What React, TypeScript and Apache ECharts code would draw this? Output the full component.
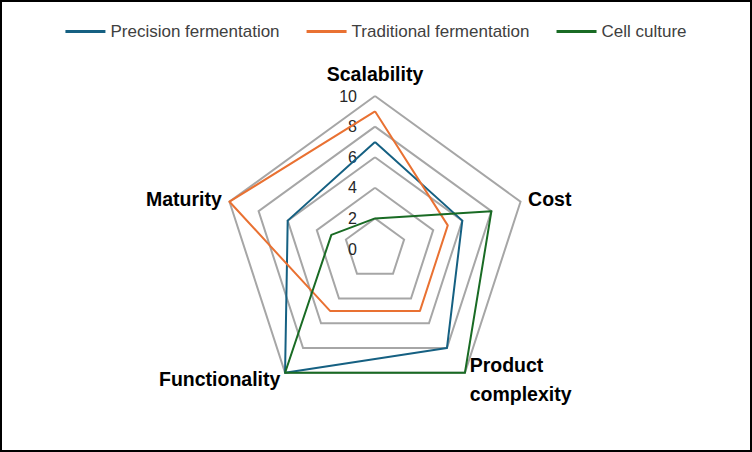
import React, { useEffect, useRef } from "react";
import * as echarts from "echarts";

// Categories in the reference's clockwise order, starting at the top
const categories = ["Scalability", "Cost", "Product\ncomplexity", "Functionality", "Maturity"];
const seriesNames = ["Precision fermentation", "Traditional fermentation", "Cell culture"];
const precisionValues = [7, 6, 8, 10, 6];
const traditionalValues = [9, 5, 5, 5, 10];
const cellValues = [2, 8, 10, 10, 3];
const seriesColors = ["#156082", "#E97132", "#196B24"];
const axisMin = 0;
const axisMax = 10;
const axisSplits = 5;

// ECharts lays radar indicators out counter-clockwise; reorder to appear clockwise
const order = [0, 4, 3, 2, 1];

export default function App() {
  const ref = useRef<HTMLDivElement>(null);
  useEffect(() => {
    if (!ref.current) return;
    const chart = echarts.init(ref.current, null, { renderer: "svg" });
    const allValues = [precisionValues, traditionalValues, cellValues];
    chart.setOption({
      animation: false,
      backgroundColor: "#ffffff",
      legend: {
        top: 18,
        left: "center",
        itemWidth: 40,
        itemHeight: 3,
        itemGap: 27,
        icon: "rect",
        data: seriesNames,
        textStyle: {
          fontSize: 17,
          color: "#404040",
          fontFamily: "Liberation Sans, Arial, sans-serif",
        },
      },
      radar: {
        center: [375, 249],
        radius: 153,
        startAngle: 90,
        shape: "polygon",
        splitNumber: axisSplits,
        axisNameGap: 8,
        axisName: {
          color: "#000000",
          fontWeight: "bold",
          fontSize: 19.5,
          lineHeight: 29,
          fontFamily: "Liberation Sans, Arial, sans-serif",
        },
        splitLine: { lineStyle: { color: "#a6a6a6", width: 2 } },
        splitArea: { show: false },
        axisLine: { show: false },
        axisTick: { show: false },
        axisLabel: {
          show: false,
          fontSize: 16,
          color: "#262626",
          margin: 18,
          fontFamily: "Liberation Sans, Arial, sans-serif",
        },
        indicator: order.map((i) =>
          i === 0
            ? {
                name: categories[i],
                min: axisMin,
                max: axisMax,
                axisLabel: { show: true },
              }
            : { name: categories[i], min: axisMin, max: axisMax }
        ),
      },
      series: [
        {
          type: "radar",
          symbol: "none",
          data: seriesNames.map((name, k) => ({
            name,
            value: order.map((i) => allValues[k][i]),
            lineStyle: { color: seriesColors[k], width: 2 },
            itemStyle: { color: seriesColors[k] },
          })),
        },
      ],
    });
    return () => chart.dispose();
  }, []);
  return (
    <>
      <div
        ref={ref}
        style={{ position: "fixed", left: 0, top: 0, width: 752, height: 452 }}
      />
      <div
        style={{
          position: "fixed",
          left: 0,
          top: 0,
          width: 752,
          height: 452,
          boxSizing: "border-box",
          border: "2px solid #000",
          pointerEvents: "none",
        }}
      />
    </>
  );
}
